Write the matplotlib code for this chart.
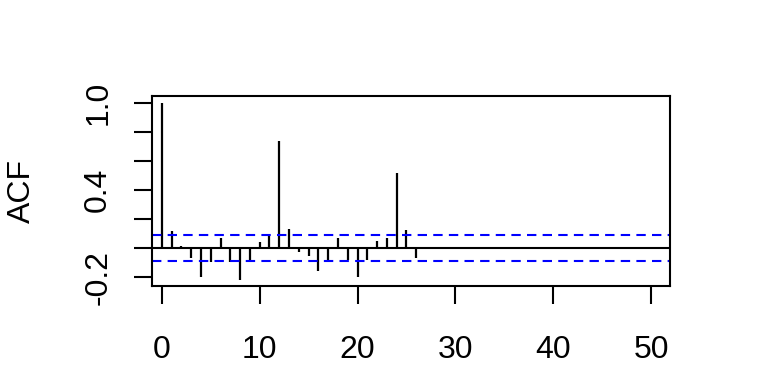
import numpy as np
import matplotlib.pyplot as plt

plt.rcParams['font.family'] = ['Liberation Sans', 'DejaVu Sans']

# autocorrelation values
lags = np.arange(0, 27)
acf = [1.0, 0.115, 0.014, -0.07, -0.20, -0.094, 0.069, -0.094, -0.218, -0.094,
       0.041, 0.085, 0.738, 0.131, -0.025, -0.053, -0.156, -0.08, 0.069, -0.08,
       -0.198, -0.08, 0.048, 0.069, 0.517, 0.124, -0.069]
ci = 0.087

x_ticks = [0, 10, 20, 30, 40, 50]
y_ticks = [-0.2, 0.0, 0.2, 0.4, 0.6, 0.8, 1.0]
y_labels = ['-0.2', '', '', '0.4', '', '', '1.0']

fig = plt.figure(figsize=(7.68, 3.84), dpi=100)
ax = fig.add_axes([0.198, 0.255, 0.674, 0.495])

ax.vlines(lags, 0, acf, color='black', lw=1.6)
ax.axhline(0, color='black', lw=1.5)
ax.axhline(ci, color='blue', lw=1.5, dashes=(4.5, 3))
ax.axhline(-ci, color='blue', lw=1.5, dashes=(4.5, 3))

ax.set_xlim(-1.0, 51.9)
ax.set_ylim(-0.262, 1.048)

for s in ax.spines.values():
    s.set_linewidth(1.5)

ax.set_xticks(x_ticks)
ax.set_xticklabels([str(v) for v in x_ticks])
ax.set_yticks(y_ticks)
ax.set_yticklabels(y_labels, rotation=90, va='center')
ax.tick_params(axis='both', length=13, width=1.5, labelsize=23)
ax.tick_params(axis='x', pad=22)
ax.tick_params(axis='y', pad=15)
ax.set_ylabel('ACF', fontsize=23)
ax.yaxis.set_label_coords(-0.222, 0.5)

fig.savefig('out.png', dpi=100)
